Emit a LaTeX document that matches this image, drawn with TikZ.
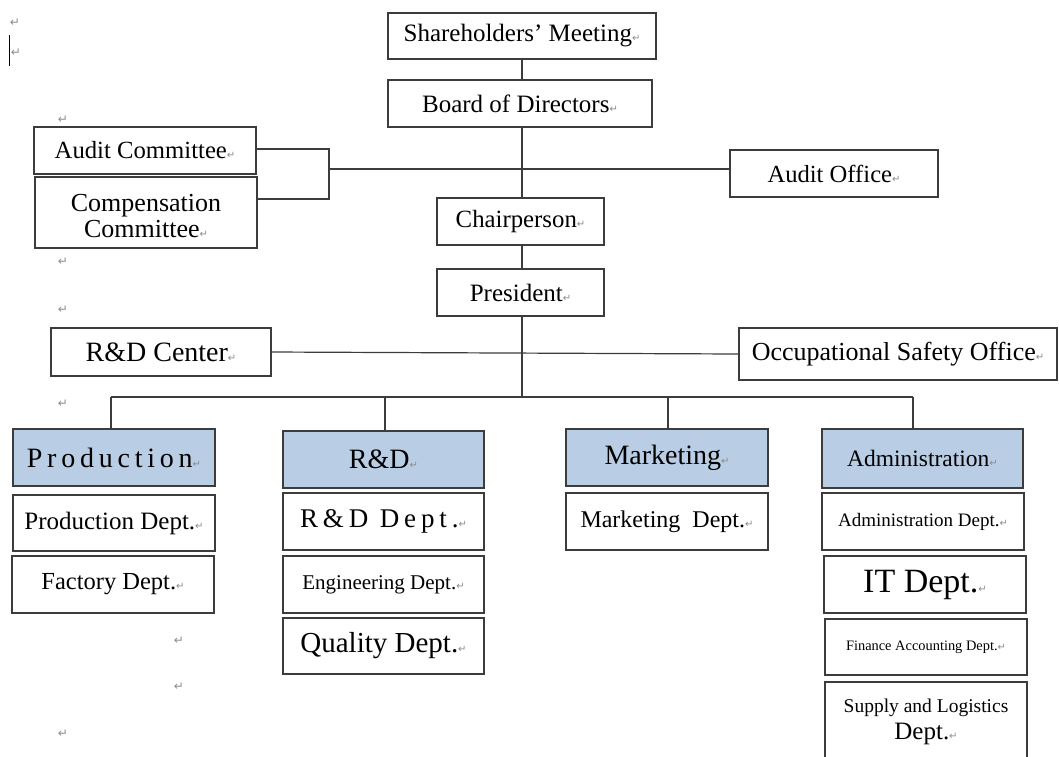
\documentclass[tikz,border=0pt]{standalone}
\usepackage{fontspec}
\setmainfont{Liberation Serif}
\newfontfamily\markfont{DejaVu Sans}
\definecolor{hdrblue}{RGB}{185,205,228}
\definecolor{edgegray}{RGB}{60,60,60}
\newcommand\retmark{{\markfont\fontsize{10}{10}\selectfont\textcolor{black!45}{↵}}}
\newcommand\fs[1]{\fontsize{#1}{#1}\selectfont}
\tikzset{
  unitbox/.style={draw=edgegray, line width=1.3pt, fill=white, inner sep=0pt, align=center},
  headbox/.style={unitbox, fill=hdrblue},
  link/.style={draw=edgegray, line width=1.2pt},
  pmk/.style={inner sep=0pt, font=\markfont\fontsize{12}{12}\selectfont, text=black!45},
  boxtext/.style={inner sep=0pt, align=center},
}
\begin{document}
\begin{tikzpicture}[x=1pt, y=-1pt]
\useasboundingbox (0,0) rectangle (1059,756);
\clip (0,0) rectangle (1059,756);

% governance
\node[unitbox, minimum width=268, minimum height=46, font=\fs{25}] (sm) at (522,36) {Shareholders’ Meeting\retmark};
\node[unitbox, minimum width=264, minimum height=47, font=\fs{25}] (bd) at (520,103.5) {Board of Directors\retmark};
\node[unitbox, minimum width=222, minimum height=47, font=\fs{24.7}] (ac) at (145,150.5) {Audit Committee\retmark};
\node[unitbox, minimum width=222, minimum height=71] (cc) at (146,212.5) {};
\node[boxtext, font=\fs{26}] (cct) at (146,216) {Compensation\\Committee\retmark};
\node[unitbox, minimum width=208, minimum height=47, font=\fs{24.6}] (ao) at (834,173.5) {Audit Office\retmark};
\node[unitbox, minimum width=167, minimum height=47, font=\fs{24.8}] (ch) at (520.5,221.5) {Chairperson\retmark};
\node[unitbox, minimum width=167, minimum height=47, font=\fs{25}] (pr) at (520.5,292.5) {President\retmark};
\node[unitbox, minimum width=220, minimum height=48, font=\fs{28}] (rdc) at (161,352) {R\&D Center\retmark};
\node[unitbox, minimum width=318, minimum height=52, font=\fs{26}] (oso) at (898,354) {Occupational Safety Office\retmark};

% divisions
\node[headbox, minimum width=202, minimum height=57, font=\fs{28}] (hp) at (114,457.5) {\addfontfeature{LetterSpace=17}Production\retmark};
\node[headbox, minimum width=201, minimum height=57, font=\fs{28}] (hr) at (383.5,459.5) {R\&D\retmark};
\node[headbox, minimum width=202, minimum height=57, font=\fs{28}] (hm) at (667,457.5) {Marketing\retmark};
\node[headbox, minimum width=201, minimum height=59, font=\fs{23.5}] (ha) at (922.5,458.5) {Administration\retmark};

% departments
\node[unitbox, minimum width=202, minimum height=56, font=\fs{25}] (pd) at (114,523) {Production Dept.\retmark};
\node[unitbox, minimum width=202, minimum height=57, font=\fs{24.5}] (fd) at (113,584.5) {Factory Dept.\retmark};
\node[unitbox, minimum width=201, minimum height=57, font=\fs{27}] (rd) at (383.5,521.5) {\addfontfeature{LetterSpace=18}R\&D Dept.\retmark};
\node[unitbox, minimum width=201, minimum height=57, font=\fs{21}] (ed) at (383.5,584.5) {Engineering Dept.\retmark};
\node[unitbox, minimum width=201, minimum height=56, font=\fs{29}] (qd) at (383.5,646) {Quality Dept.\retmark};
\node[unitbox, minimum width=202, minimum height=57, font=\fs{24}] (md) at (667,521.5) {Marketing~ Dept.\retmark};
\node[unitbox, minimum width=202, minimum height=57, font=\fs{19}] (ad) at (923,521.5) {Administration Dept.\retmark};
\node[unitbox, minimum width=202, minimum height=57, font=\fs{34}] (it) at (925,584.5) {IT Dept.\retmark};
\node[unitbox, minimum width=202, minimum height=56, font=\fs{14.4}] (fa) at (926,647) {Finance Accounting Dept.\retmark};
\node[unitbox, minimum width=202, minimum height=80, align=center] (sl) at (926,722)
  {{\fs{19.5}Supply and Logistics}\\[6pt]{\fs{25}Dept.\retmark}};

% trunk
\coordinate (tk) at (522,0);
\draw[link] (sm.south -| tk) -- (bd.north -| tk);
\draw[link] (bd.south -| tk) -- (ch.north -| tk);
\draw[link] (ch.south -| tk) -- (pr.north -| tk);

% committees and audit office
\coordinate (brk) at (329,169);
\coordinate (brktop) at (329,149);
\coordinate (brkbot) at (329,199);
\draw[link] (ac.east |- brktop) -- (brktop) -- (brkbot) -- (cc.east |- brkbot);
\draw[link] (brk) -- (ao.west |- brk);

% staff line
\draw[link] (rdc.east) -- (oso.west);

% division bus
\coordinate (b1) at (111,397);
\coordinate (b2) at (385,397);
\coordinate (b3) at (668,397);
\coordinate (b4) at (913,397);
\draw[link] (pr.south -| tk) -- (b2 -| tk);
\draw[link] (b1) -- (b4);
\draw[link] (b1) -- (b1 |- hp.north);
\draw[link] (b2) -- (b2 |- hr.north);
\draw[link] (b3) -- (b3 |- hm.north);
\draw[link] (b4) -- (b4 |- ha.north);

% loose paragraph marks
\node[pmk] (m1) at (15,23) {↵};
\node[pmk] (m2) at (16,53) {↵};
\node[pmk] (m3) at (63,120) {↵};
\node[pmk] (m4) at (63,262) {↵};
\node[pmk] (m5) at (63,310) {↵};
\node[pmk] (m6) at (63,404) {↵};
\node[pmk] (m7) at (179,641) {↵};
\node[pmk] (m8) at (179,687) {↵};
\node[pmk] (m9) at (63,734) {↵};
\coordinate (cur1) at (9,35);
\coordinate (cur2) at (9,66);
\draw[line width=1pt] (cur1) -- (cur2);
\end{tikzpicture}
\end{document}
